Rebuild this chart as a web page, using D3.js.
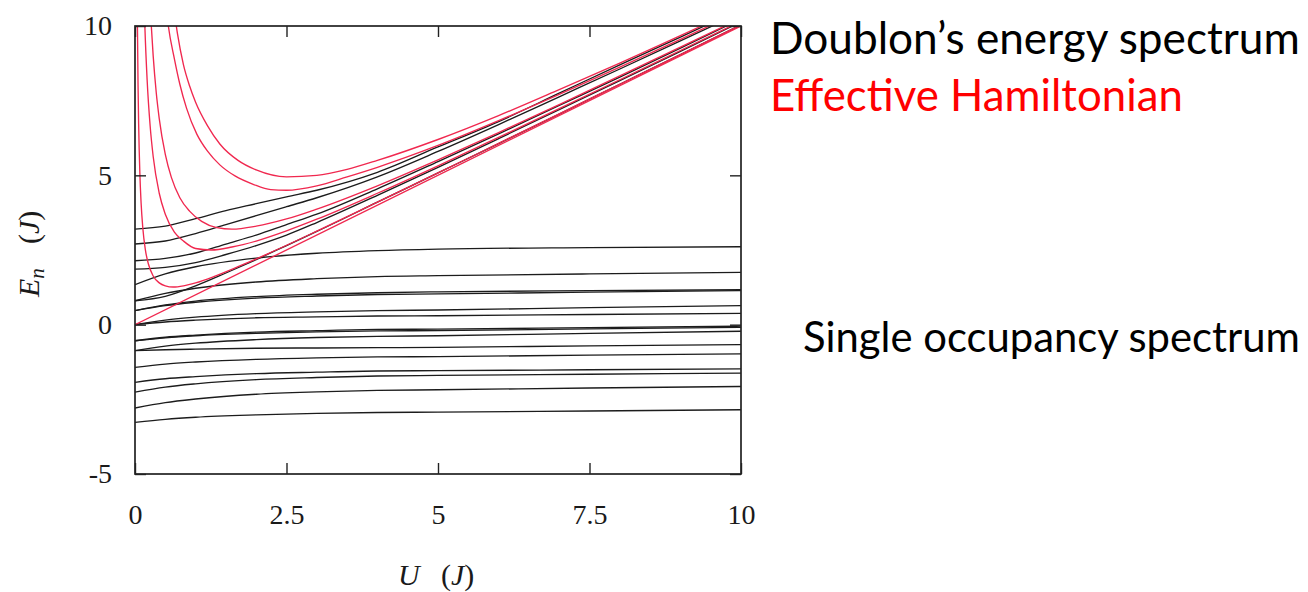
<!DOCTYPE html>
<html>
<head>
<meta charset="utf-8">
<script src="https://cdn.jsdelivr.net/npm/d3@7"></script>
<style>
  html, body { margin: 0; padding: 0; background: #fff; }
  svg { display: block; }
</style>
</head>
<body>
<svg id="chart" width="1308" height="592"></svg>
<script>
// ---- axis ticks ----
const uTicks = [0, 2.5, 5, 7.5, 10];
const uTickText = ["0", "2.5", "5", "7.5", "10"];
const eTicks = [-5, 0, 5, 10];
const eTickText = ["-5", "0", "5", "10"];

// ---- single-occupancy levels (black, nearly flat) ----
const singleU = [0, 0.5, 1, 2, 3, 4, 5, 7.5, 10];
const singleLevels = [
  [1.34, 1.70, 1.94, 2.23, 2.39, 2.48, 2.53, 2.58, 2.61],
  [0.80, 1.05, 1.22, 1.43, 1.54, 1.61, 1.64, 1.70, 1.75],
  [0.47, 0.66, 0.79, 0.94, 1.02, 1.07, 1.10, 1.14, 1.17],
  [0.47, 0.64, 0.75, 0.89, 0.96, 1.01, 1.03, 1.09, 1.14],
  [0.00, 0.15, 0.25, 0.37, 0.43, 0.47, 0.49, 0.57, 0.64],
  [0.00, 0.09, 0.15, 0.23, 0.26, 0.29, 0.30, 0.34, 0.38],
  [-0.54, -0.42, -0.35, -0.25, -0.20, -0.16, -0.15, -0.10, -0.05],
  [-0.54, -0.44, -0.37, -0.29, -0.24, -0.21, -0.20, -0.14, -0.09],
  [-0.87, -0.72, -0.62, -0.50, -0.43, -0.39, -0.37, -0.29, -0.22],
  [-0.87, -0.84, -0.82, -0.79, -0.78, -0.77, -0.76, -0.71, -0.67],
  [-1.43, -1.32, -1.25, -1.16, -1.11, -1.08, -1.07, -1.02, -0.98],
  [-1.93, -1.81, -1.74, -1.64, -1.59, -1.55, -1.54, -1.51, -1.48],
  [-2.26, -2.09, -1.98, -1.84, -1.77, -1.72, -1.70, -1.66, -1.62],
  [-2.79, -2.61, -2.49, -2.33, -2.25, -2.20, -2.18, -2.12, -2.07],
  [-3.27, -3.17, -3.10, -3.02, -2.97, -2.94, -2.93, -2.89, -2.85]
];

// ---- doublon levels (black, rising with U) ----
const doublonU = [0, 0.5, 1, 1.5, 2, 2.5, 3, 4, 5, 6, 7, 8, 9, 10];
const doublonLevels = [
  [3.20, 3.30, 3.55, 3.82, 4.05, 4.28, 4.50, 5.10, 5.95, 6.80, 7.75, 8.70, 9.63, 10.57],
  [2.70, 2.80, 3.05, 3.35, 3.65, 3.95, 4.25, 4.95, 5.80, 6.70, 7.63, 8.56, 9.50, 10.45],
  [2.14, 2.22, 2.40, 2.70, 3.00, 3.35, 3.70, 4.55, 5.46, 6.39, 7.34, 8.29, 9.26, 10.24],
  [1.86, 1.92, 2.08, 2.35, 2.65, 3.00, 3.42, 4.33, 5.27, 6.23, 7.20, 8.17, 9.15, 10.14],
  [0.80, 0.95, 1.30, 1.73, 2.18, 2.65, 3.12, 4.10, 5.08, 6.06, 7.05, 8.05, 9.04, 10.04]
];

// ---- effective Hamiltonian levels (red) ----
const effU0 = [0, 10];
const effE0 = [0, 10];
const effU1 = [0.035, 0.04, 0.05, 0.06, 0.08, 0.1, 0.13, 0.17, 0.22, 0.3, 0.4, 0.5, 0.63, 0.8, 1.0, 1.3, 1.7, 2.2, 3, 4, 5, 6, 7, 8, 9, 10];
const effE1 = [11.46, 10.04, 8.05, 6.73, 5.08, 4.10, 3.21, 2.52, 2.04, 1.63, 1.40, 1.30, 1.26, 1.30, 1.40, 1.61, 1.94, 2.38, 3.13, 4.10, 5.08, 6.07, 7.06, 8.05, 9.04, 10.04];
const effU2 = [0.14, 0.16, 0.2, 0.25, 0.3, 0.4, 0.5, 0.65, 0.8, 1.0, 1.26, 1.6, 2, 2.5, 3, 4, 5, 6, 7, 8, 9, 10];
const effE2 = [11.57, 10.16, 8.20, 6.65, 5.63, 4.40, 3.70, 3.10, 2.80, 2.55, 2.50, 2.60, 2.80, 3.14, 3.53, 4.40, 5.32, 6.27, 7.23, 8.20, 9.18, 10.16];
const effU3 = [0.23, 0.26, 0.3, 0.35, 0.4, 0.5, 0.6, 0.74, 0.9, 1.1, 1.35, 1.6, 2, 2.5, 3, 4, 5, 6, 7, 8, 9, 10];
const effE3 = [11.5, 10.3, 9.0, 7.78, 6.90, 5.70, 4.93, 4.25, 3.80, 3.46, 3.25, 3.20, 3.30, 3.54, 3.87, 4.65, 5.52, 6.43, 7.37, 8.33, 9.29, 10.26];
const effU4 = [0.48, 0.52, 0.55, 0.65, 0.74, 0.85, 1.02, 1.2, 1.4, 1.65, 1.95, 2.24, 2.5, 3, 3.5, 4, 5, 6, 7, 8, 9, 10];
const effE4 = [11.2, 10.5, 10.0, 8.90, 8.05, 7.25, 6.38, 5.80, 5.35, 4.98, 4.70, 4.52, 4.50, 4.65, 4.95, 5.27, 6.00, 6.83, 7.71, 8.62, 9.55, 10.5];
const effU5 = [0.6, 0.66, 0.7, 0.8, 0.9, 1.0, 1.2, 1.4, 1.7, 2.0, 2.5, 3, 3.5, 4, 5, 6, 7, 8, 9, 10];
const effE5 = [11.0, 10.3, 9.75, 8.70, 8.00, 7.45, 6.65, 6.05, 5.50, 5.18, 4.95, 5.00, 5.20, 5.50, 6.20, 7.00, 7.87, 8.76, 9.68, 10.6];

// ---- side captions ----
const captionText = ["Doublon’s energy spectrum", "Effective Hamiltonian", "Single occupancy spectrum"];
const captionColor = ["#000000", "#ff0000", "#000000"];

// ---- layout ----
const svg = d3.select("#chart");
const plotLeft = 135, plotRight = 741, plotTop = 26, plotBottom = 474;
const x = d3.scaleLinear().domain([0, 10]).range([plotLeft, plotRight]);
const y = d3.scaleLinear().domain([-5, 10]).range([plotBottom, plotTop]);

svg.append("rect").attr("width", 1308).attr("height", 592).attr("fill", "#fff");

svg.append("defs").append("clipPath").attr("id", "plotClip")
  .append("rect").attr("x", plotLeft).attr("y", plotTop)
  .attr("width", plotRight - plotLeft).attr("height", plotBottom - plotTop);

const pairs = (us, es) => us.map((u, i) => [u, es[i]]);
const path = d3.line().x(d => x(d[0])).y(d => y(d[1])).curve(d3.curveMonotoneX);

const plot = svg.append("g").attr("clip-path", "url(#plotClip)");

// black: exact spectrum
plot.selectAll("path.single").data(singleLevels).join("path")
  .attr("class", "single")
  .attr("d", es => path(pairs(singleU, es)))
  .attr("fill", "none").attr("stroke", "#1c1c1c").attr("stroke-width", 1.35);

plot.selectAll("path.doublon").data(doublonLevels).join("path")
  .attr("class", "doublon")
  .attr("d", es => path(pairs(doublonU, es)))
  .attr("fill", "none").attr("stroke", "#1c1c1c").attr("stroke-width", 1.35);

// red: effective Hamiltonian
const effective = [
  pairs(effU0, effE0), pairs(effU1, effE1), pairs(effU2, effE2),
  pairs(effU3, effE3), pairs(effU4, effE4), pairs(effU5, effE5)
];
plot.selectAll("path.eff").data(effective).join("path")
  .attr("class", "eff")
  .attr("d", path)
  .attr("fill", "none").attr("stroke", "#f0284f").attr("stroke-width", 1.35);

// ---- axes: inward ticks on all four sides ----
const tickFont = "'Liberation Serif', 'DejaVu Serif', serif";
const styleAxis = g => {
  g.select(".domain").remove();
  g.selectAll(".tick line").attr("stroke", "#222").attr("stroke-width", 1.4);
  g.selectAll(".tick text").attr("fill", "#1a1a1a")
    .style("font-family", tickFont).style("font-size", "28px");
};

svg.append("g").attr("transform", `translate(0,${plotBottom})`)
  .call(d3.axisBottom(x).tickValues(uTicks).tickSize(-11).tickPadding(30)
    .tickFormat((d, i) => uTickText[i]))
  .call(styleAxis);
svg.append("g").attr("transform", `translate(0,${plotTop})`)
  .call(d3.axisTop(x).tickValues(uTicks).tickSize(-11).tickFormat(""))
  .call(styleAxis);
svg.append("g").attr("transform", `translate(${plotLeft},0)`)
  .call(d3.axisLeft(y).tickValues(eTicks).tickSize(-11).tickPadding(23)
    .tickFormat((d, i) => eTickText[i]))
  .call(styleAxis);
svg.append("g").attr("transform", `translate(${plotRight},0)`)
  .call(d3.axisRight(y).tickValues(eTicks).tickSize(-11).tickFormat(""))
  .call(styleAxis);

// frame
svg.append("rect").attr("x", plotLeft).attr("y", plotTop)
  .attr("width", plotRight - plotLeft).attr("height", plotBottom - plotTop)
  .attr("fill", "none").attr("stroke", "#222").attr("stroke-width", 1.7);

// ---- axis titles ----
const xt = svg.append("g").style("font-family", tickFont).style("font-size", "30px").attr("fill", "#1a1a1a");
xt.append("text").attr("x", 398).attr("y", 585).style("font-style", "italic").text("U");
const xp = xt.append("text").attr("x", 441).attr("y", 585);
xp.append("tspan").text("(");
xp.append("tspan").style("font-style", "italic").text("J");
xp.append("tspan").text(")");

const yt = svg.append("g").attr("transform", "translate(39,297) rotate(-90)")
  .style("font-family", tickFont).style("font-size", "30px").attr("fill", "#1a1a1a");
const ye = yt.append("text").attr("x", 0).attr("y", 0);
ye.append("tspan").style("font-style", "italic").text("E");
ye.append("tspan").style("font-style", "italic").style("font-size", "21px").attr("dy", 5).text("n");
const yp = yt.append("text").attr("x", 53).attr("y", 0);
yp.append("tspan").text("(");
yp.append("tspan").style("font-style", "italic").text("J");
yp.append("tspan").text(")");

// ---- side captions, each sized to its own width ----
const capX = [770, 770, 803];
const capY = [54, 111, 352];
const capWidth = [530, 413, 497];
const caps = svg.append("g").style("font-family", "Lato, 'Open Sans', sans-serif");
captionText.forEach((t, i) => {
  const node = caps.append("text").attr("x", capX[i]).attr("y", capY[i])
    .style("font-size", "40px").attr("fill", captionColor[i]).text(t);
  const size = 40 * capWidth[i] / node.node().getComputedTextLength();
  node.style("font-size", size.toFixed(2) + "px");
});
</script>
</body>
</html>
